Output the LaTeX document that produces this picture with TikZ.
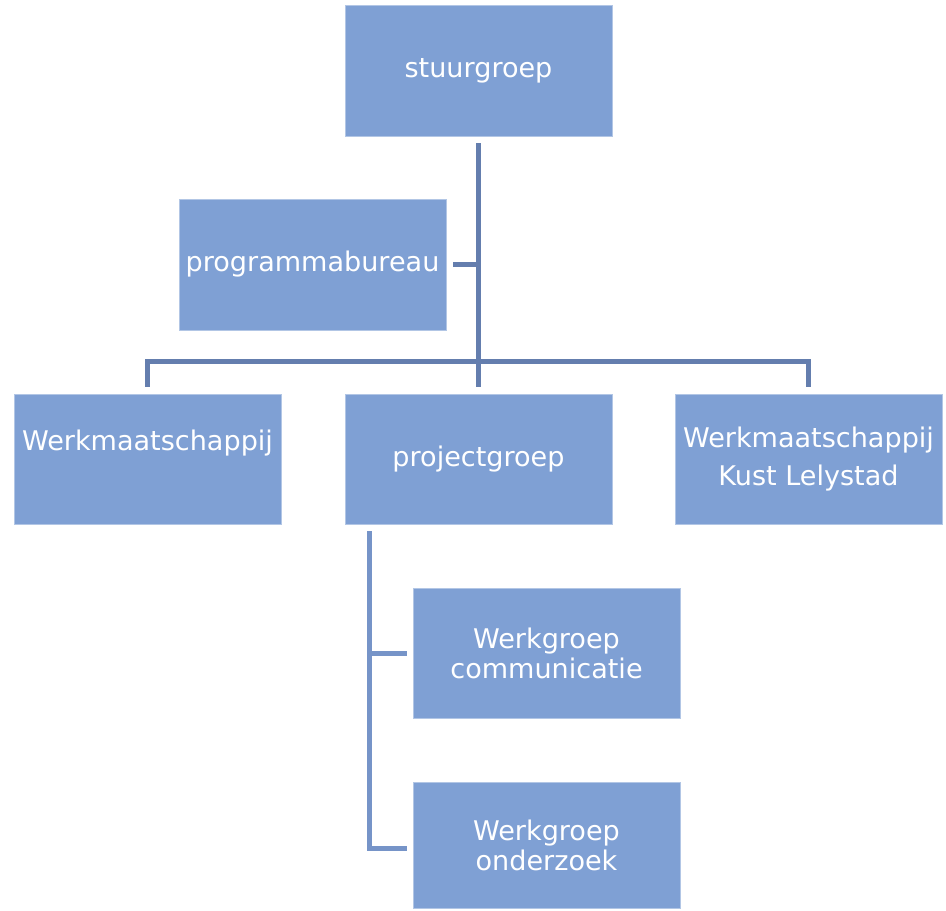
\documentclass[tikz,border=0pt]{standalone}
\usepackage{fontspec}
\setmainfont{DejaVu Sans}
\usepackage{xcolor}
\usepackage{tikz}
\usetikzlibrary{positioning, calc}
\definecolor{BoxBlue}{RGB}{127, 160, 212}
\definecolor{TreeLine}{RGB}{100, 126, 174}
\definecolor{SubLine}{RGB}{118, 148, 200}

\tikzset{
  orgbox/.style={rectangle, fill=BoxBlue, draw=BoxBlue!60!white, line width=0.4pt,
                 minimum width=5.34cm, minimum height=2.62cm, inner sep=0pt,
                 text=white, align=center, font=\fontsize{15.4}{21.5}\selectfont},
  workbox/.style={orgbox, font=\fontsize{15.4}{17}\selectfont},
  orgline/.style={draw=TreeLine, line width=0.1cm},
  subline/.style={draw=SubLine, line width=0.1cm}
}

\begin{document}
\begin{tikzpicture}
  \useasboundingbox (0,0) rectangle (18.92,-18.2);

  % top of the chart
  \node[orgbox] (stuur) at (9.57,-1.41) {stuurgroep};
  \node[orgbox] (prog) at (6.25,-5.29) {programmabureau};

  % second row
  \node[orgbox, minimum height=2.6cm] (wm) at (2.95,-9.18) {Werkmaatschappij\\\mbox{}};
  \node[orgbox, minimum height=2.6cm] (project) at (9.57,-9.18) {projectgroep};
  \node[orgbox, minimum height=2.6cm] (kust) at (16.17,-9.18) {Werkmaatschappij\\Kust Lelystad};

  % werkgroepen
  \node[workbox, minimum height=2.6cm] (comm) at (10.93,-13.06) {Werkgroep\\communicatie};
  \node[workbox, minimum height=2.52cm] (onderz) at (10.93,-16.9) {Werkgroep\\onderzoek};

  % connectors
  \coordinate (bus) at (9.57,-7.22);
  \draw[orgline] ([yshift=-1.4mm]stuur.south) -- ([yshift=1.4mm]project.north);
  \draw[orgline] ([xshift=1.4mm]prog.east) -- (prog.east -| stuur.south);
  \draw[orgline] ([yshift=1.4mm]wm.north) |- (bus) -| ([yshift=1.4mm]kust.north);

  \coordinate (pgtop) at ([xshift=5mm,yshift=-1.4mm]project.south west);
  \draw[subline] (pgtop) |- ([xshift=-1.2mm,yshift=-0.06cm]onderz.west);
  \draw[subline] (pgtop |- comm.west) -- ([xshift=-1.2mm]comm.west);
\end{tikzpicture}
\end{document}
